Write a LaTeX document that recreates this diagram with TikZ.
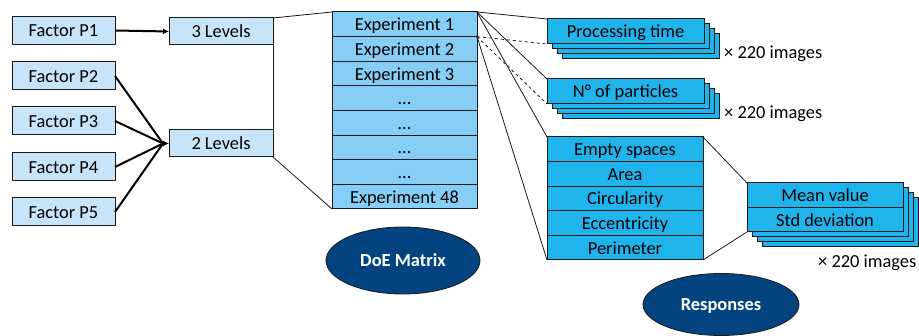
\documentclass[tikz,border=0pt]{standalone}
\usepackage{fontspec}
\setmainfont{Carlito}
\usetikzlibrary{arrows.meta,shapes.geometric}
\definecolor{factfill}{RGB}{200,228,248}
\definecolor{matfill}{RGB}{135,206,246}
\definecolor{respfill}{RGB}{32,180,236}
\definecolor{ellfill}{RGB}{3,68,128}
\definecolor{edge}{RGB}{25,25,25}
\begin{document}
\begin{tikzpicture}[x=1pt,y=-1pt,
  every node/.style={font=\fontsize{18.4}{21}\selectfont, text=black},
  basebox/.style={draw=edge, line width=1pt, inner sep=0pt, outer sep=0pt, rectangle, text height=13pt, text depth=0pt},
  factbox/.style={basebox, fill=factfill, minimum width=103pt, minimum height=28pt},
  lvlbox/.style={basebox, fill=factfill, minimum width=104pt, minimum height=27pt},
  matbox/.style={basebox, fill=matfill, minimum width=145pt, minimum height=24.625pt},
  respbox/.style={basebox, fill=respfill, minimum width=157pt, minimum height=25pt},
  rowbox/.style={basebox, fill=respfill, minimum width=156pt, minimum height=24.6pt},
  statbox/.style={basebox, fill=respfill, minimum width=156pt, minimum height=24.5pt},
  oval/.style={ellipse, draw=edge, line width=0.8pt, fill=ellfill, inner sep=0pt, text=white, text height=13pt, text depth=0pt, font=\fontsize{18.4}{21}\selectfont\bfseries},
  thin/.style={draw=edge, line width=0.8pt},
  thickarrow/.style={draw=black, line width=2pt, -{Latex[length=6pt,width=6pt]}},
  thickline/.style={draw=black, line width=2pt},
  count/.style={anchor=west, inner sep=0pt}
]
\useasboundingbox (0,0) rectangle (919,336);

% factors
\node[factbox] (p1) at (63.5,30.5) {Factor P1};
\node[factbox] (p2) at (63.5,76) {Factor P2};
\node[factbox] (p3) at (63.5,121) {Factor P3};
\node[factbox] (p4) at (63.5,167) {Factor P4};
\node[factbox] (p5) at (63.5,212) {Factor P5};

\node[lvlbox] (l3) at (221,31.5) {3 Levels};
\node[lvlbox] (l2) at (221,143.5) {2 Levels};
\coordinate (conv) at (163,143.5);

\draw[thickarrow] (p1.east) -- (l3.west);
\draw[thickline] (p2.east) -- (conv);
\draw[thickline] (p3.east) -- (conv);
\draw[thickline] (p4.east) -- (conv);
\draw[thickline] (p5.east) -- (conv);
\draw[thickarrow] (conv) -- (l2.west);

% matrix
\node[matbox] (m1) at (404.5,24.31) {Experiment 1};
\node[matbox] (m2) at (404.5,48.94) {Experiment 2};
\node[matbox] (m3) at (404.5,73.56) {Experiment 3};
\node[matbox] (m4) at (404.5,98.19) {…};
\node[matbox] (m5) at (404.5,122.81) {…};
\node[matbox] (m6) at (404.5,147.44) {…};
\node[matbox] (m7) at (404.5,172.06) {…};
\node[matbox] (m8) at (404.5,196.69) {Experiment 48};

\draw[thin] (l3.north east) -- (m1.north west);
\draw[thin] (l3.south east) -- (l2.north east);
\draw[thin] (l2.south east) -- (m8.south west);

% processing time stack
\node[respbox] (pt3) at (640.5,46.5) {};
\node[respbox] (pt2) at (635.5,41.5) {};
\node[respbox] (pt1) at (630.5,36.5) {};
\node[respbox] (pt) at (625.5,31.5) {Processing time};
\node[count] (ptc) at (724,54) {× 220 images};

% particles stack
\node[respbox] (np3) at (640.5,106.5) {};
\node[respbox] (np2) at (635.5,101.5) {};
\node[respbox] (np1) at (630.5,96.5) {};
\node[respbox] (np) at (625.5,91.5) {N° of particles};
\node[count] (npc) at (724,114) {× 220 images};

% responses list
\node[rowbox] (r1) at (625,149.3) {Empty spaces};
\node[rowbox] (r2) at (625,173.9) {Area};
\node[rowbox] (r3) at (625,198.5) {Circularity};
\node[rowbox] (r4) at (625,223.1) {Eccentricity};
\node[rowbox] (r5) at (625,247.7) {Perimeter};

% stats stack
\node[basebox, fill=respfill, minimum width=156pt, minimum height=49pt] (st3) at (840,222.5) {};
\node[basebox, fill=respfill, minimum width=156pt, minimum height=49pt] (st2) at (835,217.5) {};
\node[basebox, fill=respfill, minimum width=156pt, minimum height=49pt] (st1) at (830,212.5) {};
\node[statbox] (mv) at (825,195.25) {Mean value};
\node[statbox] (sd) at (825,219.75) {Std deviation};
\node[count] (stc) at (818,263) {× 220 images};

% connectors from matrix
\draw[thin] (m1.north east) -- (pt.north west);
\draw[thin] (m1.north east) -- (np.north west);
\draw[thin] (m1.north east) -- (r1.north west);
\draw[thin, dashed] (m1.south east) -- (pt.south west);
\draw[thin, dashed] (m1.south east) -- (np.south west);
\draw[thin] (m1.south east) -- (r5.south west);
\fill[edge] (m1.south east) circle (1.2pt);

\draw[thin] (r1.north east) -- (mv.north west);
\draw[thin] (r5.south east) -- (sd.south west);

% ellipses
\node[oval, minimum width=154pt, minimum height=67pt] (doe) at (403,260.5) {DoE Matrix};
\node[oval, minimum width=156pt, minimum height=62pt] (resp) at (721,304.5) {Responses};
\end{tikzpicture}
\end{document}
